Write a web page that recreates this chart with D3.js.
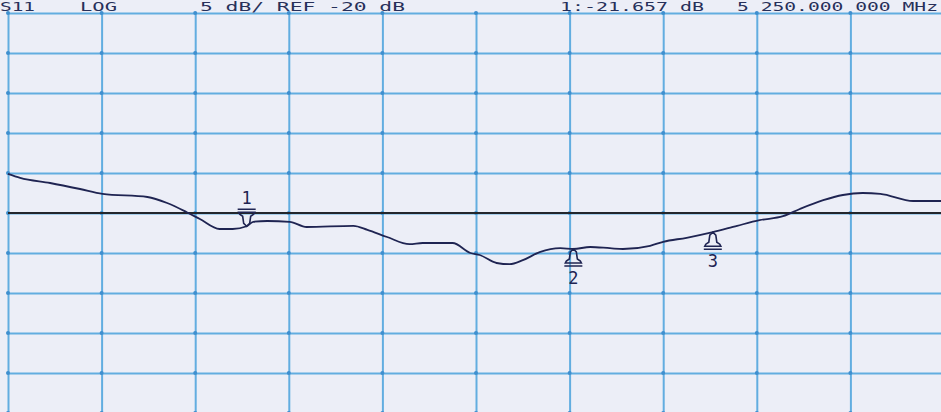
<!DOCTYPE html>
<html>
<head>
<meta charset="utf-8">
<script src="https://cdn.jsdelivr.net/npm/d3@7"></script>
<style>
  html, body { margin: 0; padding: 0; background: #eceef7; overflow: hidden; }
  svg { display: block; }
</style>
</head>
<body>
<svg width="941" height="412"></svg>
<script>
// trace position in divisions (0..10) and S11 magnitude in dB
var divs = [0, 0.13, 0.45, 0.77, 1.01, 1.49, 1.70, 1.91, 2.05, 2.26, 2.40, 2.55, 2.62, 2.77, 3.01, 3.19,
            3.69, 3.84, 4.05, 4.29, 4.43, 4.75, 4.94, 5.04, 5.22, 5.36, 5.50, 5.68, 5.90, 6.04, 6.22,
            6.43, 6.57, 6.86, 7.00, 7.25, 7.53, 7.79, 8.03, 8.28, 8.46, 8.71, 8.92, 9.13, 9.32, 9.67, 10];
var s11 = [-15.1, -15.6, -16.25, -17.0, -17.6, -18.0, -18.75, -19.9, -20.75, -22.0, -22.0, -21.66, -21.1, -21.0, -21.1, -21.75,
           -21.6, -22.1, -23.0, -23.9, -23.75, -23.75, -25.0, -25.25, -26.25, -26.4, -25.9, -24.9, -24.4, -24.5, -24.25,
           -24.4, -24.5, -24.1, -23.6, -23.1, -22.4, -21.6, -20.9, -20.4, -19.5, -18.4, -17.75, -17.5, -17.6, -18.5, -18.5];

var markerNames = ["1", "2", "3"];
var markerDivs = [2.55, 6.04, 7.53];
var markerAbove = [true, false, false];

var headerLeft = ["S11", "LOG", "5 dB/ REF -20 dB"];
var headerRight = ["1:-21.657 dB", "5 250.000 000 MHz"];

var refLevel = -20;

var svg = d3.select("svg");

var x = d3.scaleLinear().domain([0, 10]).range([8, 944]);
var y = d3.scaleLinear().domain([-45, 5]).range([413, 13]);

var gridColor = "#62ade0";
var ink = "#1f2452";

// vertical grid
svg.append("g")
    .attr("transform", "translate(0,413)")
    .call(d3.axisBottom(x).ticks(10).tickSize(-400).tickFormat(""))
    .call(function(g) { g.select(".domain").remove(); })
    .selectAll("line")
    .attr("stroke", gridColor)
    .attr("stroke-width", 2);

// horizontal grid
svg.append("g")
    .attr("transform", "translate(8,0)")
    .call(d3.axisLeft(y).tickValues(d3.range(-45, 6, 5)).tickSize(-940).tickFormat(""))
    .call(function(g) { g.select(".domain").remove(); })
    .selectAll("line")
    .attr("stroke", gridColor)
    .attr("stroke-width", 2);

// little dots at the grid intersections
var crossPts = [];
d3.range(0, 11).forEach(function(i) {
    d3.range(-45, 6, 5).forEach(function(v) { crossPts.push([i, v]); });
});
svg.append("g")
    .selectAll("circle")
    .data(crossPts)
    .enter()
    .append("circle")
    .attr("cx", function(d) { return x(d[0]); })
    .attr("cy", function(d) { return y(d[1]); })
    .attr("r", 2)
    .attr("fill", "#3f8fcf");

// reference line
svg.append("line")
    .attr("x1", x(0))
    .attr("x2", 941)
    .attr("y1", y(refLevel))
    .attr("y2", y(refLevel))
    .attr("stroke", "#23262c")
    .attr("stroke-width", 2);

// trace
var points = divs.map(function(d, i) { return [d, s11[i]]; });
var line = d3.line()
    .x(function(d) { return x(d[0]); })
    .y(function(d) { return y(d[1]); })
    .curve(d3.curveMonotoneX);

svg.append("path")
    .datum(points)
    .attr("d", line)
    .attr("fill", "none")
    .attr("stroke", ink)
    .attr("stroke-width", 1.8);

// markers
var traceAt = function(d) {
    var i = d3.bisectLeft(divs, d);
    if (i <= 0) return s11[0];
    var t = (d - divs[i - 1]) / (divs[i] - divs[i - 1]);
    return s11[i - 1] + t * (s11[i] - s11[i - 1]);
};

var mk = svg.append("g")
    .selectAll("g")
    .data(markerNames)
    .enter()
    .append("g")
    .attr("transform", function(d, i) {
        return "translate(" + x(markerDivs[i]) + "," + y(traceAt(markerDivs[i])) + ")";
    });

// bell shaped marker symbol
mk.append("path")
    .attr("d", function(d, i) {
        var s = markerAbove[i] ? -1 : 1;
        return "M0,0 L-3," + (s * 3) + " L-4," + (s * 10) + " L-7," + (s * 12) + " L-8," + (s * 14) +
               " L8," + (s * 14) + " L7," + (s * 12) + " L4," + (s * 10) + " L3," + (s * 3) + " Z" +
               " M-9," + (s * 17) + " L9," + (s * 17);
    })
    .attr("fill", "none")
    .attr("stroke", ink)
    .attr("stroke-width", 1.6);

mk.append("text")
    .text(function(d) { return d; })
    .attr("x", 0)
    .attr("y", function(d, i) { return markerAbove[i] ? -22 : 35; })
    .attr("text-anchor", "middle")
    .attr("font-family", "DejaVu Sans Mono")
    .attr("font-size", 17)
    .attr("fill", ink);

// header text
var leftX = [0, 80, 200];
var leftLen = [35, 37, 205];
svg.append("g")
    .selectAll("text")
    .data(headerLeft)
    .enter()
    .append("text")
    .text(function(d) { return d; })
    .attr("x", function(d, i) { return leftX[i]; })
    .attr("y", 11)
    .attr("textLength", function(d, i) { return leftLen[i]; })
    .attr("lengthAdjust", "spacingAndGlyphs")
    .attr("font-family", "DejaVu Sans Mono")
    .attr("font-size", 13)
    .attr("fill", "#27305a");

var rightX = [560, 737];
var rightLen = [144, 201];
svg.append("g")
    .selectAll("text")
    .data(headerRight)
    .enter()
    .append("text")
    .text(function(d) { return d; })
    .attr("x", function(d, i) { return rightX[i]; })
    .attr("y", 11)
    .attr("textLength", function(d, i) { return rightLen[i]; })
    .attr("lengthAdjust", "spacingAndGlyphs")
    .attr("font-family", "DejaVu Sans Mono")
    .attr("font-size", 13)
    .attr("fill", "#27305a");
</script>
</body>
</html>
